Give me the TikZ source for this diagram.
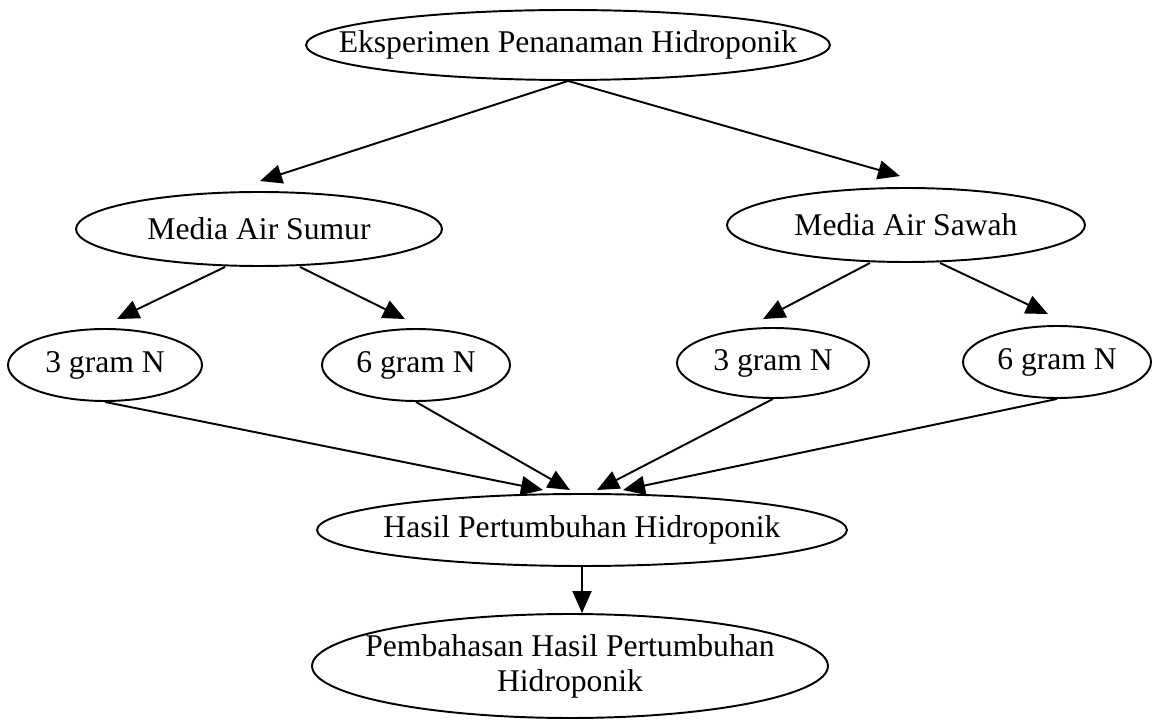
\documentclass[tikz,border=0pt]{standalone}
\usepackage{fontspec}
\setmainfont{Liberation Serif}
\usetikzlibrary{shapes.geometric,arrows.meta,calc}
\tikzset{>={Triangle[length=0.44cm,width=0.38cm]}}
\tikzset{oval/.style={draw,ellipse,line width=1.1pt,inner sep=0pt}}
\tikzset{arr/.style={->,line width=1.1pt}}

\begin{document}
\begin{tikzpicture}[x=0.02cm,y=-0.02cm,font=\fontsize{18}{20}\selectfont]
    \useasboundingbox (0,0) rectangle (1153,722);

    \node[oval,minimum width=10.48cm,minimum height=1.4cm,label=center:Eksperimen Penanaman Hidroponik] (top) at (568,45) {};

    \node[oval,minimum width=7.32cm,minimum height=1.48cm,label=center:Media Air Sumur] (sumur) at (259,229) {};
    \node[oval,minimum width=7.16cm,minimum height=1.48cm,label=center:Media Air Sawah] (sawah) at (906,225) {};

    \node[oval,minimum width=3.88cm,minimum height=1.44cm,label=center:3 gram N] (g3a) at (105,365) {};
    \node[oval,minimum width=3.76cm,minimum height=1.44cm,label=center:6 gram N] (g6a) at (416,365) {};
    \node[oval,minimum width=3.84cm,minimum height=1.4cm,label=center:3 gram N] (g3b) at (773,363) {};
    \node[oval,minimum width=3.76cm,minimum height=1.44cm,label=center:6 gram N] (g6b) at (1057,362) {};

    \node[oval,minimum width=10.6cm,minimum height=1.44cm,label=center:Hasil Pertumbuhan Hidroponik] (hasil) at (582,530) {};
    \node[oval,minimum width=10.32cm,minimum height=2.08cm,label={[align=center]center:Pembahasan Hasil Pertumbuhan\\Hidroponik}] (pemb) at (570,666) {};

    % media
    \draw[arr] (top.south) -- ($(sumur.north)+(1,-10)$);
    \draw[arr] (top.south) -- ($(sawah.north)+(-6,-11)$);

    % dosis N
    \draw[arr] ($(sumur.south)+(-34,0)$) -- ($(g3a.north)+(12,-9)$);
    \draw[arr] ($(sumur.south)+(41,0)$) -- ($(g6a.north)+(-11,-9)$);
    \draw[arr] ($(sawah.south)+(-36,0)$) -- ($(g3b.north)+(-10,-8)$);
    \draw[arr] ($(sawah.south)+(34,0)$) -- ($(g6b.north)+(-9,-11)$);

    % hasil
    \draw[arr] (g3a.south) -- ($(hasil.north)+(-39,-3)$);
    \draw[arr] (g6a.south) -- ($(hasil.north)+(-12,-3)$);
    \draw[arr] (g3b.south) -- ($(hasil.north)+(15,-3)$);
    \draw[arr] (g6b.south) -- ($(hasil.north)+(41,-3)$);

    \draw[arr] (hasil.south) -- (hasil.south |- pemb.north);
  \end{tikzpicture}
\end{document}
